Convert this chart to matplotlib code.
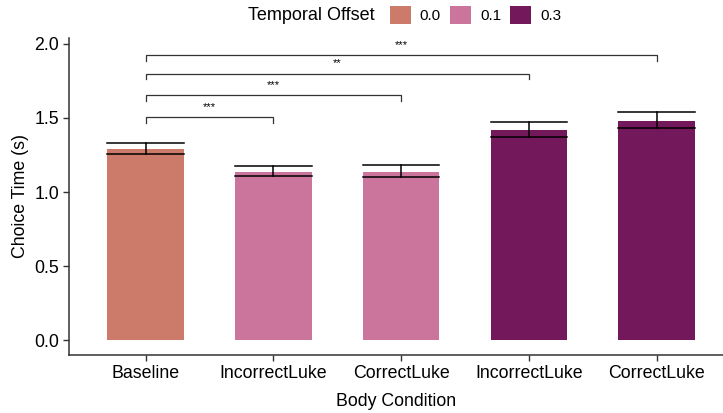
import matplotlib
matplotlib.use("Agg")
import matplotlib.pyplot as plt
from matplotlib.patches import Patch

plt.rcParams['font.family'] = ['Liberation Sans', 'DejaVu Sans']

categories = ["Baseline", "IncorrectLuke", "CorrectLuke", "IncorrectLuke", "CorrectLuke"]
offsets = ["0.0", "0.1", "0.1", "0.3", "0.3"]
means = [1.293, 1.138, 1.138, 1.421, 1.481]
err_low = [1.255, 1.107, 1.102, 1.374, 1.430]
err_high = [1.333, 1.178, 1.183, 1.475, 1.542]
legend_labels = ["0.0", "0.1", "0.3"]
palette = {"0.0": "#CC7A6A", "0.1": "#CB759C", "0.3": "#74185C"}
# comparisons: (from index, to index, bracket y, label)
comparisons = [(0, 1, 1.506, "***"), (0, 2, 1.652, "***"), (0, 3, 1.80, "**"), (0, 4, 1.924, "***")]

W, H = 723, 413
fig = plt.figure(figsize=(W / 100, H / 100), dpi=100)
ax = fig.add_axes([69 / W, 1 - 355 / H, (723 - 69) / W, (355 - 38) / H])

x = list(range(len(categories)))
bw = 0.6
ax.bar(x, means, width=bw, color=[palette[o] for o in offsets], zorder=1)
for xi, lo, hi in zip(x, err_low, err_high):
    ax.plot([xi - bw / 2, xi + bw / 2], [hi, hi], color="black", lw=1.1, zorder=3)
    ax.plot([xi - bw / 2, xi + bw / 2], [lo, lo], color="black", lw=1.1, zorder=3)
    ax.plot([xi, xi], [lo, hi], color="black", lw=1.1, zorder=3)

tick_h = 0.04
for a, b, y, lab in comparisons:
    ax.plot([a, a, b, b], [y - tick_h, y, y, y - tick_h], color="#333333", lw=0.9,
            solid_joinstyle="miter")
    ax.text((a + b) / 2, y + 0.035, lab, ha="center", va="bottom", fontsize=8)

ax.set_xlim(-0.6, 4.52)
ax.set_ylim(-0.1, 2.04)
ax.set_yticks([0, 0.5, 1.0, 1.5, 2.0])
ax.set_yticklabels(["0.0", "0.5", "1.0", "1.5", "2.0"])
ax.set_xticks(x)
ax.set_xticklabels(categories)
ax.tick_params(axis="both", labelsize=12.75, colors="#333333", length=4, width=1,
               labelcolor="black", pad=3)
for s in ["top", "right"]:
    ax.spines[s].set_visible(False)
for s in ["left", "bottom"]:
    ax.spines[s].set_color("#333333")
    ax.spines[s].set_linewidth(1.1)
ax.set_xlabel("Body Condition", fontsize=12.75, labelpad=8)
ax.set_ylabel("Choice Time (s)", fontsize=12.75, labelpad=4)

handles = [Patch(facecolor=palette[l], edgecolor="none") for l in legend_labels]
fig.text(248 / W, 1 - 15 / H, "Temporal Offset", fontsize=13, va="center", ha="left")
fig.legend(handles, legend_labels, ncol=3, loc="center left",
           bbox_to_anchor=(387 / W, 1 - 15 / H), frameon=False, fontsize=11,
           handlelength=1.35, handleheight=1.35, handletextpad=0.6, columnspacing=0.6,
           borderpad=0.2, borderaxespad=0)

fig.savefig("out.png", dpi=100)
